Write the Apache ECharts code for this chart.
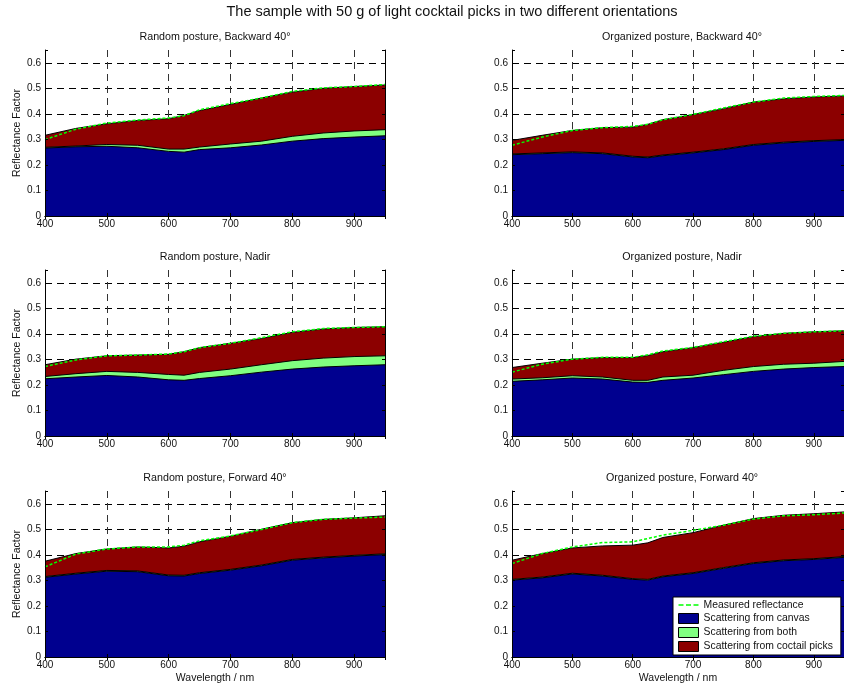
<!DOCTYPE html>
<html>
<head>
<meta charset="utf-8">
<script src="https://cdn.jsdelivr.net/npm/echarts@6/dist/echarts.min.js"></script>
<style>
  html, body { margin: 0; padding: 0; background: #ffffff; }
  #chart { width: 844px; height: 686px; }
</style>
</head>
<body>
<div id="chart"></div>
<script>
// Wavelength samples (nm)
const wavelength = [400, 450, 500, 550, 600, 625, 650, 700, 750, 800, 850, 900, 950];

// Random posture, Backward 40°
const randomBackwardCanvas   = [0.266, 0.271, 0.273, 0.267, 0.253, 0.250, 0.260, 0.267, 0.278, 0.293, 0.303, 0.309, 0.314];
const randomBackwardBoth     = [0.003, 0.003, 0.007, 0.010, 0.009, 0.012, 0.010, 0.015, 0.015, 0.019, 0.022, 0.024, 0.024];
const randomBackwardPicks    = [0.047, 0.069, 0.081, 0.097, 0.119, 0.132, 0.143, 0.155, 0.169, 0.173, 0.175, 0.174, 0.175];
const randomBackwardMeasured = [0.299, 0.340, 0.364, 0.376, 0.384, 0.393, 0.416, 0.440, 0.462, 0.488, 0.502, 0.507, 0.515];

// Organized posture, Backward 40°
const organizedBackwardCanvas   = [0.240, 0.244, 0.248, 0.244, 0.231, 0.228, 0.236, 0.247, 0.260, 0.277, 0.286, 0.292, 0.296];
const organizedBackwardBoth     = [0.003, 0.003, 0.003, 0.003, 0.003, 0.003, 0.003, 0.003, 0.003, 0.003, 0.003, 0.003, 0.003];
const organizedBackwardPicks    = [0.053, 0.069, 0.084, 0.099, 0.114, 0.128, 0.138, 0.147, 0.157, 0.166, 0.170, 0.171, 0.171];
const organizedBackwardMeasured = [0.277, 0.309, 0.335, 0.346, 0.351, 0.359, 0.377, 0.398, 0.423, 0.446, 0.462, 0.468, 0.472];

// Random posture, Nadir
const randomNadirCanvas   = [0.224, 0.231, 0.237, 0.231, 0.220, 0.218, 0.225, 0.236, 0.250, 0.262, 0.270, 0.275, 0.279];
const randomNadirBoth     = [0.009, 0.013, 0.016, 0.018, 0.021, 0.020, 0.024, 0.026, 0.029, 0.033, 0.035, 0.036, 0.035];
const randomNadirPicks    = [0.046, 0.057, 0.061, 0.068, 0.079, 0.092, 0.097, 0.101, 0.103, 0.111, 0.114, 0.114, 0.114];
const randomNadirMeasured = [0.272, 0.298, 0.314, 0.317, 0.321, 0.330, 0.346, 0.363, 0.385, 0.408, 0.421, 0.425, 0.428];

// Organized posture, Nadir
const organizedNadirCanvas   = [0.214, 0.220, 0.227, 0.223, 0.211, 0.210, 0.218, 0.227, 0.240, 0.253, 0.262, 0.268, 0.272];
const organizedNadirBoth     = [0.009, 0.008, 0.009, 0.008, 0.007, 0.008, 0.013, 0.011, 0.017, 0.019, 0.019, 0.017, 0.020];
const organizedNadirPicks    = [0.045, 0.057, 0.065, 0.076, 0.089, 0.097, 0.099, 0.108, 0.110, 0.117, 0.121, 0.123, 0.120];
const organizedNadirMeasured = [0.250, 0.281, 0.301, 0.308, 0.308, 0.318, 0.333, 0.347, 0.369, 0.391, 0.402, 0.408, 0.412];

// Random posture, Forward 40°
const randomForwardCanvas   = [0.312, 0.325, 0.336, 0.334, 0.318, 0.317, 0.327, 0.340, 0.357, 0.379, 0.388, 0.395, 0.401];
const randomForwardBoth     = [0.003, 0.003, 0.003, 0.003, 0.003, 0.003, 0.003, 0.003, 0.003, 0.003, 0.003, 0.003, 0.003];
const randomForwardPicks    = [0.060, 0.077, 0.084, 0.094, 0.106, 0.114, 0.121, 0.130, 0.140, 0.144, 0.148, 0.147, 0.149];
const randomForwardMeasured = [0.353, 0.403, 0.423, 0.431, 0.431, 0.438, 0.455, 0.474, 0.499, 0.526, 0.539, 0.544, 0.548];

// Organized posture, Forward 40°
const organizedForwardCanvas   = [0.301, 0.310, 0.325, 0.317, 0.304, 0.301, 0.314, 0.327, 0.347, 0.366, 0.377, 0.382, 0.390];
const organizedForwardBoth     = [0.003, 0.003, 0.003, 0.003, 0.003, 0.003, 0.003, 0.003, 0.003, 0.003, 0.003, 0.003, 0.003];
const organizedForwardPicks    = [0.075, 0.092, 0.099, 0.115, 0.131, 0.143, 0.151, 0.157, 0.166, 0.173, 0.175, 0.176, 0.175];
const organizedForwardMeasured = [0.366, 0.405, 0.431, 0.448, 0.451, 0.464, 0.477, 0.496, 0.516, 0.540, 0.553, 0.557, 0.564];

const panels = [
  { title: 'Random posture, Backward 40°',    canvas: randomBackwardCanvas,    both: randomBackwardBoth,    picks: randomBackwardPicks,    measured: randomBackwardMeasured },
  { title: 'Organized posture, Backward 40°', canvas: organizedBackwardCanvas, both: organizedBackwardBoth, picks: organizedBackwardPicks, measured: organizedBackwardMeasured },
  { title: 'Random posture, Nadir',           canvas: randomNadirCanvas,       both: randomNadirBoth,       picks: randomNadirPicks,       measured: randomNadirMeasured },
  { title: 'Organized posture, Nadir',        canvas: organizedNadirCanvas,    both: organizedNadirBoth,    picks: organizedNadirPicks,    measured: organizedNadirMeasured },
  { title: 'Random posture, Forward 40°',     canvas: randomForwardCanvas,     both: randomForwardBoth,     picks: randomForwardPicks,     measured: randomForwardMeasured },
  { title: 'Organized posture, Forward 40°',  canvas: organizedForwardCanvas,  both: organizedForwardBoth,  picks: organizedForwardPicks,  measured: organizedForwardMeasured }
];

const NAME_MEASURED = 'Measured reflectance';
const NAME_CANVAS = 'Scattering from canvas';
const NAME_BOTH = 'Scattering from both';
const NAME_PICKS = 'Scattering from coctail picks';

const COLOR_CANVAS = '#00008f';
const COLOR_BOTH = '#80ff80';
const COLOR_PICKS = '#8c0000';
const COLOR_MEASURED = '#00ff00';

const FONT = "'Liberation Sans', Arial, Helvetica, sans-serif";
const TEXT_COLOR = '#111';

// Panel geometry
const colLeft = [45, 512];
const rowTop = [50, 270, 491];
const plotW = 340;
const plotH = 166;

const grids = [], xAxes = [], yAxes = [], series = [], graphics = [];

graphics.push({
  type: 'text', x: 452, y: 12,
  style: { text: 'The sample with 50 g of light cocktail picks in two different orientations',
           font: '14.5px ' + FONT, fill: TEXT_COLOR, textAlign: 'center', textVerticalAlign: 'middle' }
});

panels.forEach((p, i) => {
  const row = Math.floor(i / 2), col = i % 2;
  grids.push({ left: colLeft[col], top: rowTop[row], width: plotW, height: plotH, show: false });

  graphics.push({
    type: 'text', x: colLeft[col] + plotW / 2, y: rowTop[row] - 12.5,
    style: { text: p.title, font: '10.7px ' + FONT, fill: TEXT_COLOR, textAlign: 'center', textVerticalAlign: 'middle' }
  });

  const xMain = xAxes.length;
  // main x axis: labels and dashed grid, below the areas
  xAxes.push({
    gridIndex: i, type: 'value', min: 400, max: 950, interval: 100, position: 'bottom', z: 0,
    axisLine: { show: false }, axisTick: { show: false },
    axisLabel: { show: true, showMaxLabel: false, margin: 3, fontSize: 10, color: TEXT_COLOR, fontFamily: FONT },
    splitLine: { show: true, showMinLine: false, showMaxLine: false,
                 lineStyle: { color: '#333', width: 1, type: [7, 5] } },
    name: row === 2 ? 'Wavelength / nm' : '', nameLocation: 'middle', nameGap: 16,
    nameTextStyle: { fontSize: 10.5, color: TEXT_COLOR, fontFamily: FONT }
  });
  // frame lines with inward ticks, drawn over the areas
  ['bottom', 'top'].forEach(pos => {
    xAxes.push({
      gridIndex: i, type: 'value', min: 400, max: 950, interval: 100, position: pos, z: 10,
      axisLine: { show: true, lineStyle: { color: '#000', width: 1 } },
      axisTick: { show: true, inside: true, length: 3, lineStyle: { color: '#000' } },
      axisLabel: { show: false }, splitLine: { show: false }
    });
  });

  const yMain = yAxes.length;
  yAxes.push({
    gridIndex: i, type: 'value', min: 0, max: 0.65, interval: 0.1, position: 'left', z: 0,
    axisLine: { show: false }, axisTick: { show: false },
    axisLabel: { show: true, showMaxLabel: false, margin: 4, fontSize: 10, color: TEXT_COLOR, fontFamily: FONT,
                 formatter: v => String(Math.round(v * 10) / 10) },
    splitLine: { show: true, showMinLine: false, showMaxLine: false,
                 lineStyle: { color: '#000', width: 1, type: [7, 5] } },
    name: col === 0 ? 'Reflectance Factor' : '', nameLocation: 'middle', nameGap: 22,
    nameTextStyle: { fontSize: 10.5, color: TEXT_COLOR, fontFamily: FONT }
  });
  ['left', 'right'].forEach(pos => {
    yAxes.push({
      gridIndex: i, type: 'value', min: 0, max: 0.65, interval: 0.1, position: pos, z: 10,
      axisLine: { show: true, lineStyle: { color: '#000', width: 1 } },
      axisTick: { show: true, inside: true, length: 3, lineStyle: { color: '#000' } },
      axisLabel: { show: false }, splitLine: { show: false }
    });
  });

  // cumulative layers: canvas, canvas + both, canvas + both + picks
  const lvlCanvas = p.canvas.map(v => v);
  const lvlBoth = p.canvas.map((v, k) => v + p.both[k]);
  const lvlPicks = p.canvas.map((v, k) => v + p.both[k] + p.picks[k]);

  const layer = (name, color, levels) => ({
    type: 'line', name, xAxisIndex: xMain, yAxisIndex: yMain, z: 2,
    data: wavelength.map((w, k) => [w, levels[k]]),
    symbol: 'none', showSymbol: false, smooth: false, animation: false,
    itemStyle: { color },
    lineStyle: { color: '#000', width: 1 },
    areaStyle: { color, opacity: 1 },
    emphasis: { disabled: true }
  });

  series.push(layer(NAME_PICKS, COLOR_PICKS, lvlPicks));
  series.push(layer(NAME_BOTH, COLOR_BOTH, lvlBoth));
  series.push(layer(NAME_CANVAS, COLOR_CANVAS, lvlCanvas));
  series.push({
    type: 'line', name: NAME_MEASURED, xAxisIndex: xMain, yAxisIndex: yMain, z: 3,
    data: wavelength.map((w, k) => [w, p.measured[k]]),
    symbol: 'none', showSymbol: false, smooth: false, animation: false,
    itemStyle: { color: COLOR_MEASURED },
    lineStyle: { color: COLOR_MEASURED, width: 1.5, type: [3, 2] },
    emphasis: { disabled: true }
  });
});

// three short strokes, used as the key for the dashed measured curve
const DASH_ICON = 'path://M0,0h5v1.6h-5z M7.5,0h5v1.6h-5z M15,0h5v1.6h-5z';

const chart = echarts.init(document.getElementById('chart'), null, { renderer: 'canvas' });
chart.setOption({
  backgroundColor: '#ffffff',
  animation: false,
  grid: grids,
  xAxis: xAxes,
  yAxis: yAxes,
  series: series,
  graphic: graphics,
  legend: {
    show: true, z: 20,
    left: 673, top: 597, orient: 'vertical',
    backgroundColor: '#ffffff', borderColor: '#000', borderWidth: 1,
    padding: [3, 8, 3, 5], itemGap: 3, itemWidth: 20, itemHeight: 10,
    selectedMode: false, symbolKeepAspect: true,
    textStyle: { fontSize: 10.4, color: TEXT_COLOR, fontFamily: FONT },
    data: [
      { name: NAME_MEASURED, icon: DASH_ICON, itemStyle: { color: COLOR_MEASURED, borderWidth: 0 } },
      { name: NAME_CANVAS, icon: 'rect', itemStyle: { color: COLOR_CANVAS, borderColor: '#000', borderWidth: 1 } },
      { name: NAME_BOTH, icon: 'rect', itemStyle: { color: COLOR_BOTH, borderColor: '#000', borderWidth: 1 } },
      { name: NAME_PICKS, icon: 'rect', itemStyle: { color: COLOR_PICKS, borderColor: '#000', borderWidth: 1 } }
    ]
  }
});
</script>
</body>
</html>
